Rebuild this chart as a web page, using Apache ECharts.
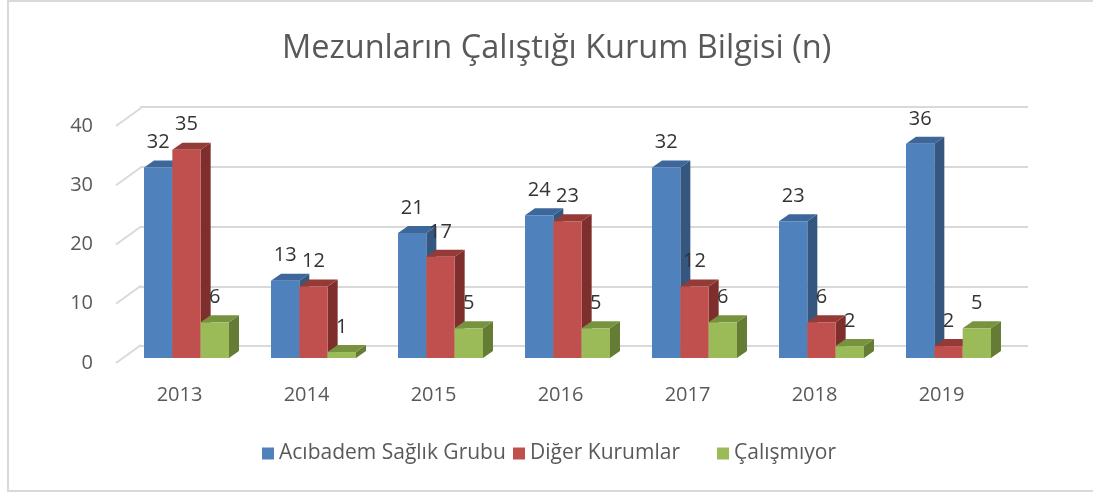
<!DOCTYPE html>
<html><head><meta charset="utf-8">
<script src="https://cdn.jsdelivr.net/npm/echarts@6/dist/echarts.min.js"></script>
<style>html,body{margin:0;padding:0;background:#fff}#c{width:1093px;height:493px}</style>
</head><body><div id="c"></div>
<script>
const categories = ['2013','2014','2015','2016','2017','2018','2019'];
const acibadem = [32,13,21,24,32,23,36];
const diger = [35,12,17,23,12,6,2];
const calismiyor = [6,1,5,5,6,2,5];
const yTicks = [0,10,20,30,40];
const seriesNames = ['Acıbadem Sağlık Grubu','Diğer Kurumlar','Çalışmıyor'];
const FONT = '"Open Sans", "Noto Sans", sans-serif';
const TXT = '#595959';
const colors = [
  {front:'#4F81BD', top:'#3D679A', side:'#34567F'},
  {front:'#C0504D', top:'#943A37', side:'#7E2F2D'},
  {front:'#9BBB59', top:'#779340', side:'#657C35'}
];
const legendLefts = [257, 508, 712];
const DX = 10, DY = -7;
function geom(si, api){
  const i = api.value(0), v = api.value(1);
  const band = api.size([1,0])[0];
  const w = band*0.223;
  const c = api.coord([i, v]);
  const b = api.coord([i, 0]);
  const x0 = c[0] + (si-1)*w - w/2;
  return {x0:x0, x1:x0+w, w:w, yt:c[1], yb:b[1], v:v};
}
function barRender(si){
  return function(params, api){
    const g = geom(si, api);
    const col = colors[si];
    return {type:'group', children:[
      {type:'polygon', shape:{points:[[g.x1,g.yt],[g.x1+DX,g.yt+DY],[g.x1+DX,g.yb+DY],[g.x1,g.yb]]}, style:{fill:col.side}},
      {type:'polygon', shape:{points:[[g.x0,g.yt],[g.x0+DX,g.yt+DY],[g.x1+DX,g.yt+DY],[g.x1,g.yt]]}, style:{fill:col.top}},
      {type:'rect', shape:{x:g.x0, y:g.yt, width:g.w, height:g.yb-g.yt}, style:{fill:col.front}}
    ]};
  };
}
function labelRender(si){
  return function(params, api){
    const g = geom(si, api);
    return {type:'text', style:{text:String(g.v), x:(g.x0+g.x1)/2, y:g.yt-25, align:'center', verticalAlign:'middle', fill:'#333333', font:'20px '+FONT}};
  };
}
function toData(arr){ return arr.map((v,i)=>[i,v]); }
const dataSets = [acibadem, diger, calismiyor];
const chart = echarts.init(document.getElementById('c'), null, {renderer:'canvas'});
const series = [
  {type:'custom', name:'diag', xAxisIndex:1, yAxisIndex:1, silent:true, data:yTicks.map(v=>[0,v]),
   renderItem:function(params, api){
     const x = params.coordSys.x;
     const y = api.coord([0, api.value(1)])[1];
     return {type:'line', shape:{x1:x, y1:y, x2:x+25, y2:y-18}, style:{stroke:'#d9d9d9', lineWidth:2}};
   }}
];
dataSets.forEach((arr, si)=>{
  series.push({type:'custom', name:seriesNames[si], xAxisIndex:2, yAxisIndex:2, z:2, itemStyle:{color:colors[si].front}, data:toData(arr), renderItem:barRender(si)});
});
dataSets.forEach((arr, si)=>{
  series.push({type:'custom', name:'lbl'+si, xAxisIndex:2, yAxisIndex:2, z:10, silent:true, data:toData(arr), renderItem:labelRender(si)});
});
chart.setOption({
  backgroundColor:'#fff',
  animation:false,
  title:{text:'Mezunların Çalıştığı Kurum Bilgisi (n)', left:277, top:27,
    textStyle:{fontFamily:FONT, fontSize:32.5, fontWeight:'normal', color:TXT}},
  graphic:[{type:'rect', shape:{x:8, y:1, width:1100, height:490}, style:{fill:'none', stroke:'#d9d9d9', lineWidth:2}, silent:true}],
  legend:seriesNames.map((n,i)=>({bottom:24, left:legendLefts[i], icon:'rect', itemWidth:12, itemHeight:12,
    textStyle:{fontFamily:FONT, fontSize:21, color:TXT}, data:[n]})),
  grid:[
    {left:140, right:65, top:107, bottom:147},
    {left:116, right:88, top:126, bottom:130},
    {left:123, right:81, top:120, bottom:135}
  ],
  xAxis:[
    {gridIndex:0, type:'category', data:categories, show:false},
    {gridIndex:1, type:'category', data:categories, axisLine:{show:false}, axisTick:{show:false},
     axisLabel:{margin:22, fontFamily:FONT, fontSize:20, color:TXT}},
    {gridIndex:2, type:'category', data:categories, show:false}
  ],
  yAxis:[
    {gridIndex:0, type:'value', min:0, max:40, interval:10, axisLabel:{show:false}, axisLine:{show:false}, axisTick:{show:false},
     splitLine:{lineStyle:{color:'#d9d9d9', width:2}}},
    {gridIndex:1, type:'value', min:0, max:40, interval:10, splitLine:{show:false}, axisLine:{show:false}, axisTick:{show:false},
     axisLabel:{margin:23, fontFamily:FONT, fontSize:20, color:TXT}},
    {gridIndex:2, type:'value', min:0, max:40, interval:10, show:false, splitLine:{show:false}}
  ],
  series:series
});
</script></body></html>
